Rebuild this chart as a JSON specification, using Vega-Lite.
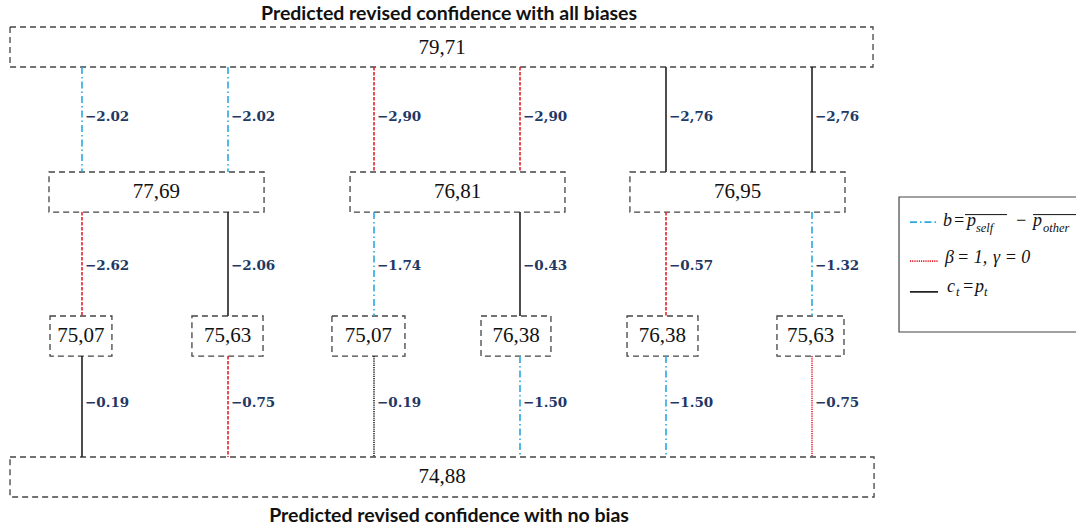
{
  "$schema": "https://vega.github.io/schema/vega-lite/v6.json",
  "width": 1076,
  "height": 530,
  "autosize": {"type": "none"},
  "padding": 0,
  "background": "white",
  "config": {"view": {"stroke": null}},
  "datasets": {
    "boxes": [
      {"value": "79,71", "x0": -0.493, "x1": 5.418, "y0": -0.147, "y1": 0.133, "cx": 2.466, "cy": 0.0},
      {"value": "77,69", "x0": -0.226, "x1": 1.247, "y0": 0.867, "y1": 1.147, "cx": 0.51, "cy": 1.007},
      {"value": "76,81", "x0": 1.836, "x1": 3.308, "y0": 0.867, "y1": 1.147, "cx": 2.572, "cy": 1.007},
      {"value": "76,95", "x0": 3.753, "x1": 5.226, "y0": 0.867, "y1": 1.147, "cx": 4.49, "cy": 1.007},
      {"value": "75,07", "x0": -0.219, "x1": 0.205, "y0": 1.874, "y1": 2.154, "cx": -0.007, "cy": 2.014},
      {"value": "75,63", "x0": 0.753, "x1": 1.24, "y0": 1.874, "y1": 2.154, "cx": 0.997, "cy": 2.014},
      {"value": "75,07", "x0": 1.712, "x1": 2.212, "y0": 1.874, "y1": 2.154, "cx": 1.962, "cy": 2.014},
      {"value": "76,38", "x0": 2.733, "x1": 3.212, "y0": 1.874, "y1": 2.154, "cx": 2.973, "cy": 2.014},
      {"value": "76,38", "x0": 3.733, "x1": 4.219, "y0": 1.874, "y1": 2.154, "cx": 3.976, "cy": 2.014},
      {"value": "75,63", "x0": 4.76, "x1": 5.219, "y0": 1.874, "y1": 2.154, "cx": 4.99, "cy": 2.014},
      {"value": "74,88", "x0": -0.493, "x1": 5.425, "y0": 2.86, "y1": 3.14, "cx": 2.466, "cy": 3.0}
    ],
    "edges": [
      {"slot": 0, "y0": 0.133, "y1": 0.867, "ly": 0.483, "kind": "bias", "label": "−2.02"},
      {"slot": 1, "y0": 0.133, "y1": 0.867, "ly": 0.483, "kind": "bias", "label": "−2.02"},
      {"slot": 2, "y0": 0.133, "y1": 0.867, "ly": 0.483, "kind": "beta", "label": "−2,90"},
      {"slot": 3, "y0": 0.133, "y1": 0.867, "ly": 0.483, "kind": "beta", "label": "−2,90"},
      {"slot": 4, "y0": 0.133, "y1": 0.867, "ly": 0.483, "kind": "ct", "label": "−2,76"},
      {"slot": 5, "y0": 0.133, "y1": 0.867, "ly": 0.483, "kind": "ct", "label": "−2,76"},
      {"slot": 0, "y0": 1.147, "y1": 1.874, "ly": 1.524, "kind": "beta", "label": "−2.62"},
      {"slot": 1, "y0": 1.147, "y1": 1.874, "ly": 1.524, "kind": "ct", "label": "−2.06"},
      {"slot": 2, "y0": 1.147, "y1": 1.874, "ly": 1.524, "kind": "bias", "label": "−1.74"},
      {"slot": 3, "y0": 1.147, "y1": 1.874, "ly": 1.524, "kind": "ct", "label": "−0.43"},
      {"slot": 4, "y0": 1.147, "y1": 1.874, "ly": 1.524, "kind": "beta", "label": "−0.57"},
      {"slot": 5, "y0": 1.147, "y1": 1.874, "ly": 1.524, "kind": "bias", "label": "−1.32"},
      {"slot": 0, "y0": 2.154, "y1": 2.86, "ly": 2.483, "kind": "ct", "label": "−0.19"},
      {"slot": 1, "y0": 2.154, "y1": 2.86, "ly": 2.483, "kind": "beta", "label": "−0.75"},
      {"slot": 2, "y0": 2.154, "y1": 2.86, "ly": 2.483, "kind": "ctDot", "label": "−0.19"},
      {"slot": 3, "y0": 2.154, "y1": 2.86, "ly": 2.483, "kind": "bias", "label": "−1.50"},
      {"slot": 4, "y0": 2.154, "y1": 2.86, "ly": 2.483, "kind": "bias", "label": "−1.50"},
      {"slot": 5, "y0": 2.154, "y1": 2.86, "ly": 2.483, "kind": "betaDot", "label": "−0.75"}
    ],
    "titles": [
      {"text": "Predicted revised confidence with all biases", "x": 2.514, "y": -0.238},
      {"text": "Predicted revised confidence with no bias", "x": 2.514, "y": 3.273}
    ],
    "legendBox": [{"x0": 5.596, "x1": 6.904, "y0": 1.042, "y1": 1.986}],
    "legendLines": [
      {"kind": "bias", "x0": 5.671, "x1": 5.856, "y": 1.217},
      {"kind": "betaDot", "x0": 5.671, "x1": 5.863, "y": 1.49},
      {"kind": "ct", "x0": 5.671, "x1": 5.863, "y": 1.706}
    ],
    "legendMain": [
      {"text": "b", "x": 5.897, "y": 1.21},
      {"text": "=", "x": 5.966, "y": 1.21},
      {"text": "p", "x": 6.062, "y": 1.21},
      {"text": "−", "x": 6.39, "y": 1.21},
      {"text": "p", "x": 6.514, "y": 1.21},
      {"text": "β", "x": 5.911, "y": 1.469},
      {"text": "= 1,", "x": 5.993, "y": 1.469},
      {"text": "γ = 0", "x": 6.24, "y": 1.469},
      {"text": "c", "x": 5.925, "y": 1.671},
      {"text": "=", "x": 6.027, "y": 1.671},
      {"text": "p", "x": 6.116, "y": 1.671}
    ],
    "legendSub": [
      {"text": "self", "x": 6.123, "y": 1.262},
      {"text": "other", "x": 6.582, "y": 1.262},
      {"text": "t", "x": 5.986, "y": 1.706},
      {"text": "t", "x": 6.178, "y": 1.706}
    ],
    "overlines": [
      {"x0": 6.048, "x1": 6.336, "y": 1.165},
      {"x0": 6.514, "x1": 6.9, "y": 1.165}
    ]
  },
  "layer": [
    {
      "data": {"name": "boxes"},
      "mark": {"type": "rect", "fill": "white", "stroke": "#444444", "strokeWidth": 1.3, "strokeDash": [6, 4]},
      "encoding": {
        "x": {"field": "x0", "type": "quantitative", "scale": {"domain": [-0.5616, 6.8082], "nice": false, "zero": false}, "axis": null},
        "x2": {"field": "x1"},
        "y": {"field": "y0", "type": "quantitative", "scale": {"domain": [-0.3357, 3.3706], "nice": false, "zero": false, "reverse": true}, "axis": null},
        "y2": {"field": "y1"}
      }
    },
    {
      "data": {"name": "boxes"},
      "mark": {"type": "text", "font": "Liberation Serif", "fontSize": 21, "color": "#111111", "align": "center", "baseline": "middle"},
      "encoding": {
        "x": {"field": "cx", "type": "quantitative", "scale": {"domain": [-0.5616, 6.8082], "nice": false, "zero": false}, "axis": null},
        "y": {"field": "cy", "type": "quantitative", "scale": {"domain": [-0.3357, 3.3706], "nice": false, "zero": false, "reverse": true}, "axis": null},
        "text": {"field": "value"}
      }
    },
    {
      "data": {"name": "edges"},
      "mark": {"type": "rule", "strokeWidth": 1.6},
      "encoding": {
        "x": {"field": "slot", "type": "quantitative", "scale": {"domain": [-0.5616, 6.8082], "nice": false, "zero": false}, "axis": null},
        "y": {"field": "y0", "type": "quantitative", "scale": {"domain": [-0.3357, 3.3706], "nice": false, "zero": false, "reverse": true}, "axis": null},
        "y2": {"field": "y1"},
        "color": {"field": "kind", "type": "nominal", "scale": {"domain": ["bias", "beta", "betaDot", "ct", "ctDot"], "range": ["#29A9E1", "#E3242B", "#E3242B", "#222222", "#222222"]}, "legend": null},
        "strokeDash": {"field": "kind", "type": "nominal", "scale": {"domain": ["bias", "beta", "betaDot", "ct", "ctDot"], "range": [[7, 3, 1.5, 3], [3.5, 1.5], [1.2, 1], [1, 0], [1.2, 1]]}, "legend": null}
      }
    },
    {
      "data": {"name": "edges"},
      "mark": {"type": "text", "font": "DejaVu Serif", "fontWeight": "bold", "fontSize": 13.5, "color": "#1F3864", "align": "left", "baseline": "middle", "dx": 3},
      "encoding": {
        "x": {"field": "slot", "type": "quantitative", "scale": {"domain": [-0.5616, 6.8082], "nice": false, "zero": false}, "axis": null},
        "y": {"field": "ly", "type": "quantitative", "scale": {"domain": [-0.3357, 3.3706], "nice": false, "zero": false, "reverse": true}, "axis": null},
        "text": {"field": "label"}
      }
    },
    {
      "data": {"name": "titles"},
      "mark": {"type": "text", "font": "Lato", "fontWeight": "bold", "fontSize": 19.5, "color": "#111111", "align": "center", "baseline": "middle"},
      "encoding": {
        "x": {"field": "x", "type": "quantitative", "scale": {"domain": [-0.5616, 6.8082], "nice": false, "zero": false}, "axis": null},
        "y": {"field": "y", "type": "quantitative", "scale": {"domain": [-0.3357, 3.3706], "nice": false, "zero": false, "reverse": true}, "axis": null},
        "text": {"field": "text"}
      }
    },
    {
      "data": {"name": "legendBox"},
      "mark": {"type": "rect", "fill": "white", "stroke": "#444444", "strokeWidth": 1.2},
      "encoding": {
        "x": {"field": "x0", "type": "quantitative", "scale": {"domain": [-0.5616, 6.8082], "nice": false, "zero": false}, "axis": null},
        "x2": {"field": "x1"},
        "y": {"field": "y0", "type": "quantitative", "scale": {"domain": [-0.3357, 3.3706], "nice": false, "zero": false, "reverse": true}, "axis": null},
        "y2": {"field": "y1"}
      }
    },
    {
      "data": {"name": "legendLines"},
      "mark": {"type": "rule", "strokeWidth": 1.8},
      "encoding": {
        "x": {"field": "x0", "type": "quantitative", "scale": {"domain": [-0.5616, 6.8082], "nice": false, "zero": false}, "axis": null},
        "x2": {"field": "x1"},
        "y": {"field": "y", "type": "quantitative", "scale": {"domain": [-0.3357, 3.3706], "nice": false, "zero": false, "reverse": true}, "axis": null},
        "color": {"field": "kind", "type": "nominal", "scale": {"domain": ["bias", "beta", "betaDot", "ct", "ctDot"], "range": ["#29A9E1", "#E3242B", "#E3242B", "#222222", "#222222"]}, "legend": null},
        "strokeDash": {"field": "kind", "type": "nominal", "scale": {"domain": ["bias", "beta", "betaDot", "ct", "ctDot"], "range": [[7, 3, 1.5, 3], [3.5, 1.5], [1.2, 1], [1, 0], [1.2, 1]]}, "legend": null}
      }
    },
    {
      "data": {"name": "legendMain"},
      "mark": {"type": "text", "font": "Liberation Serif", "fontStyle": "italic", "fontSize": 18, "color": "#111111", "align": "left", "baseline": "middle"},
      "encoding": {
        "x": {"field": "x", "type": "quantitative", "scale": {"domain": [-0.5616, 6.8082], "nice": false, "zero": false}, "axis": null},
        "y": {"field": "y", "type": "quantitative", "scale": {"domain": [-0.3357, 3.3706], "nice": false, "zero": false, "reverse": true}, "axis": null},
        "text": {"field": "text"}
      }
    },
    {
      "data": {"name": "legendSub"},
      "mark": {"type": "text", "font": "Liberation Serif", "fontStyle": "italic", "fontSize": 12.5, "color": "#111111", "align": "left", "baseline": "middle"},
      "encoding": {
        "x": {"field": "x", "type": "quantitative", "scale": {"domain": [-0.5616, 6.8082], "nice": false, "zero": false}, "axis": null},
        "y": {"field": "y", "type": "quantitative", "scale": {"domain": [-0.3357, 3.3706], "nice": false, "zero": false, "reverse": true}, "axis": null},
        "text": {"field": "text"}
      }
    },
    {
      "data": {"name": "overlines"},
      "mark": {"type": "rule", "strokeWidth": 1, "color": "#111111"},
      "encoding": {
        "x": {"field": "x0", "type": "quantitative", "scale": {"domain": [-0.5616, 6.8082], "nice": false, "zero": false}, "axis": null},
        "x2": {"field": "x1"},
        "y": {"field": "y", "type": "quantitative", "scale": {"domain": [-0.3357, 3.3706], "nice": false, "zero": false, "reverse": true}, "axis": null}
      }
    }
  ]
}
